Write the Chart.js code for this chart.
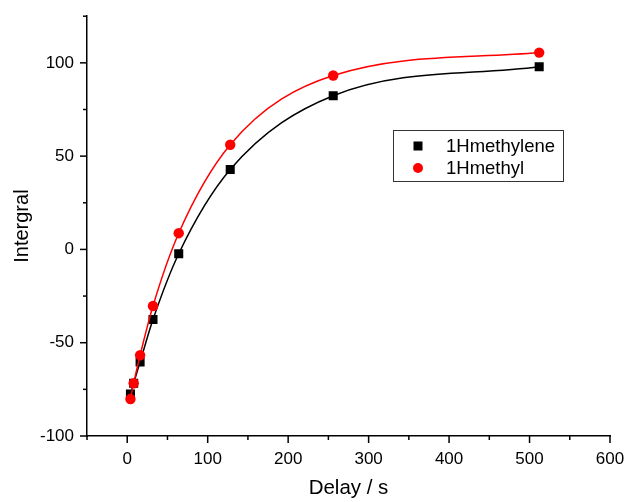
<!DOCTYPE html>
<html>
<head>
<meta charset="utf-8">
<script src="https://cdn.jsdelivr.net/npm/chart.js@4/dist/chart.umd.min.js"></script>
<style>
  html, body { margin: 0; padding: 0; background: #fff; }
  canvas { display: block; }
</style>
</head>
<body>
<canvas id="myChart" width="626" height="502"></canvas>
<script>
// delay times (s) and integrals
const delays = [4, 8, 16, 32, 64, 128, 256, 512];
const methylene = [-77.5, -71.7, -60.3, -37.6, -2.3, 42.8, 82.4, 97.9];
const methyl = [-80.2, -71.7, -56.7, -30.3, 8.7, 56.1, 93.2, 105.5];
const seriesNames = ["1Hmethylene", "1Hmethyl"];

const FONT = "'Liberation Sans', Arial, sans-serif";

const toPoints = (ys) => delays.map((x, i) => ({ x, y: ys[i] }));

// outward tick marks, long for labelled values, short for the rest
const tickMarks = {
  id: "tickMarks",
  afterDraw(chart) {
    const ctx = chart.ctx;
    const xs = chart.scales.x;
    const ys = chart.scales.y;
    ctx.save();
    ctx.strokeStyle = "#000";
    ctx.lineWidth = 1.5;
    xs.ticks.forEach((t) => {
      const px = xs.getPixelForValue(t.value);
      const len = t.value % 100 === 0 ? 7 : 4;
      ctx.beginPath();
      ctx.moveTo(px, xs.top);
      ctx.lineTo(px, xs.top + len);
      ctx.stroke();
    });
    ys.ticks.forEach((t) => {
      const py = ys.getPixelForValue(t.value);
      const len = t.value % 50 === 0 ? 7 : 4;
      ctx.beginPath();
      ctx.moveTo(ys.right, py);
      ctx.lineTo(ys.right - len, py);
      ctx.stroke();
    });
    ctx.restore();
  },
};

// boxed legend sitting inside the plot
const boxLegend = {
  id: "boxLegend",
  afterDraw(chart) {
    const ctx = chart.ctx;
    ctx.save();
    ctx.strokeStyle = "#333";
    ctx.lineWidth = 1;
    ctx.strokeRect(393.5, 130.5, 170, 51);
    ctx.font = "18.5px " + FONT;
    ctx.textBaseline = "middle";
    chart.data.datasets.forEach((ds, i) => {
      const rowY = 146 + i * 22;
      ctx.fillStyle = ds.backgroundColor;
      if (ds.pointStyle === "rect") {
        ctx.fillRect(413.5, rowY - 4.5, 9, 9);
      } else {
        ctx.beginPath();
        ctx.arc(418, rowY, 5, 0, Math.PI * 2);
        ctx.fill();
      }
      ctx.fillStyle = "#000";
      ctx.fillText(ds.label, 446, rowY + 1);
    });
    ctx.restore();
  },
};

new Chart(document.getElementById("myChart"), {
  type: "scatter",
  data: {
    datasets: [
      {
        label: seriesNames[0],
        data: toPoints(methylene),
        showLine: true,
        cubicInterpolationMode: "monotone",
        borderColor: "#000",
        backgroundColor: "#000",
        borderWidth: 1.5,
        pointStyle: "rect",
        pointRadius: 6.4,
        pointBorderWidth: 0,
        order: 1,
      },
      {
        label: seriesNames[1],
        data: toPoints(methyl),
        showLine: true,
        cubicInterpolationMode: "monotone",
        borderColor: "#ff0000",
        backgroundColor: "#ff0000",
        borderWidth: 1.5,
        pointStyle: "circle",
        pointRadius: 5.2,
        pointBorderWidth: 0,
        order: 0,
      },
    ],
  },
  options: {
    responsive: false,
    animation: false,
    devicePixelRatio: 1,
    layout: { padding: { left: 0, right: 16, top: 15, bottom: 0 } },
    plugins: {
      legend: { display: false },
      tooltip: { enabled: false },
    },
    scales: {
      x: {
        type: "linear",
        min: -50,
        max: 600,
        afterFit: (s) => { s.height = 66; s.paddingRight = 0; },
        border: { display: true, color: "#000", width: 1.5 },
        grid: { display: true, drawOnChartArea: false, drawTicks: true, tickLength: 7, tickColor: "rgba(0,0,0,0)" },
        ticks: {
          stepSize: 50,
          autoSkip: false,
          maxRotation: 0,
          padding: 6,
          color: "#000",
          font: { family: FONT, size: 17 },
          callback: (v) => (v % 100 === 0 ? v : ""),
        },
        title: {
          display: true,
          text: "Delay / s",
          color: "#000",
          font: { family: FONT, size: 20.5 },
          padding: { top: 0, bottom: 1 },
        },
      },
      y: {
        min: -100,
        max: 125,
        afterFit: (s) => { s.width = 87; },
        border: { display: true, color: "#000", width: 1.5 },
        grid: { display: true, drawOnChartArea: false, drawTicks: true, tickLength: 7, tickColor: "rgba(0,0,0,0)" },
        ticks: {
          stepSize: 25,
          autoSkip: false,
          padding: 6,
          color: "#000",
          font: { family: FONT, size: 17 },
          callback: (v) => (v % 50 === 0 ? v : ""),
        },
        title: {
          display: true,
          text: "Intergral",
          color: "#000",
          font: { family: FONT, size: 20 },
          padding: { top: 10, bottom: 0 },
        },
      },
    },
  },
  plugins: [tickMarks, boxLegend],
});
</script>
</body>
</html>
